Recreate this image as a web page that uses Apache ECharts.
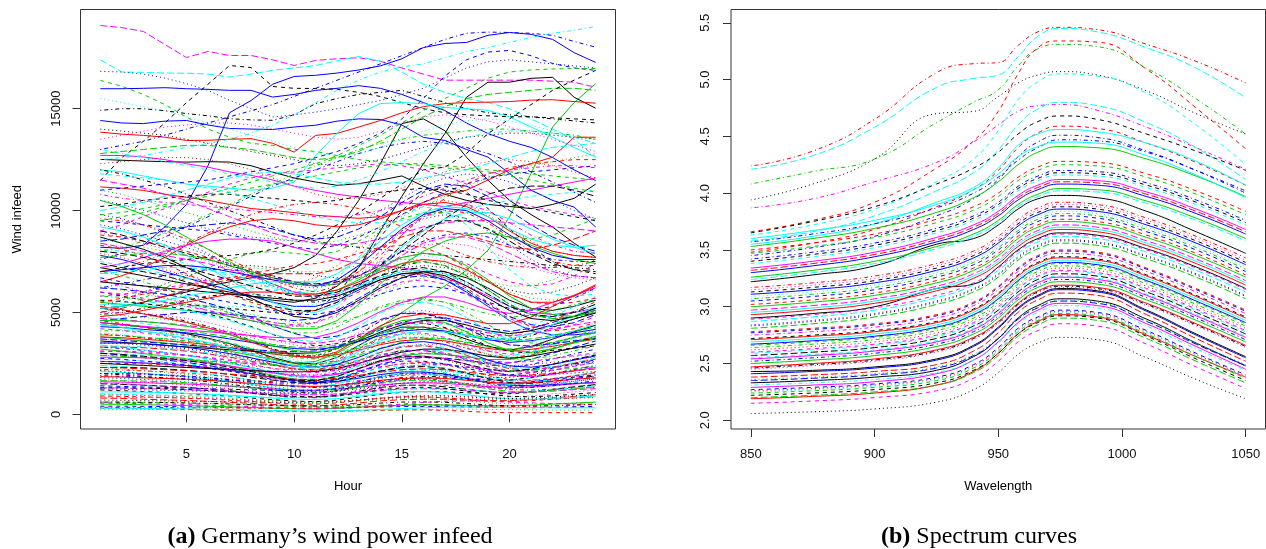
<!DOCTYPE html>
<html><head><meta charset="utf-8">
<script src="https://cdn.jsdelivr.net/npm/echarts@6/dist/echarts.min.js"></script>
<style>html,body{margin:0;padding:0;background:#fff}#c{width:1266px;height:549px}</style>
</head><body><div id="c"></div>
<script>
// ---------- Data: wind power infeed (Hour 1..24) ----------
const hours = [1,2,3,4,5,6,7,8,9,10,11,12,13,14,15,16,17,18,19,20,21,22,23,24];
const windXTicks = [5,10,15,20];
const windYTicks = [0,5000,10000,15000];
const windCurves = [
[19080,18980,18790,18150,17510,17810,17610,17610,17400,17120,17370,17450,17500,17330,17000,16700,16400,16400,16400,16400,16400,16350,16300,16050],
[17400,16800,16780,16750,16740,16700,16550,16700,16880,17000,17120,17350,17560,17330,16800,16200,15800,15500,15300,15000,14500,14000,13500,12620],
[16830,16800,16700,16500,16230,15900,15410,15000,14590,14700,14830,15000,15200,15400,15700,16000,16500,17000,17300,17400,17300,17200,17100,17000],
[15980,15980,16000,16030,15980,15950,15900,15900,15570,15700,15900,16000,16130,16000,15700,15300,14910,14300,13780,13400,13100,12600,12000,11470],
[8200,8150,8300,9200,10300,12200,14800,15400,16200,16580,16640,16750,16900,17100,17450,18000,18200,18250,18600,18740,18650,18400,17750,17270],
[11470,12600,13400,14300,15300,16200,17120,17020,16090,16000,15990,15950,15800,15600,15300,15000,14800,14700,14650,14600,14600,14550,14500,14450],
[14920,15000,15000,14900,14760,14650,14510,14450,14430,14700,15250,15500,15700,15800,15900,15600,15300,15000,14800,14700,14600,14500,14400,14300],
[16390,16100,15700,15200,14590,14000,13600,13300,13200,13000,12900,12700,12500,12400,12300,12300,12200,12100,12000,11900,11800,11700,11600,11500],
[3800,3700,3600,3500,3400,3300,3100,2900,2700,2500,2600,3000,3600,4300,5000,5700,6300,7070,8050,9690,11820,14100,15300,16230],
[7200,7000,6800,6600,6400,6200,6000,5800,5600,5500,5700,6300,7200,9000,10700,12300,13780,15560,16300,16300,16490,16540,15560,15020],
[5200,5300,5500,5800,6000,6300,6500,6700,6900,7200,7800,9000,10500,12300,14270,14500,13920,12620,11490,10500,9800,9190,8400,7720],
[13850,13750,13690,13600,13440,13450,13500,13530,13300,12870,13690,13790,14100,14420,14800,15100,15250,15300,15320,15350,15420,15440,15350,15270],
[14420,14300,14270,14390,14420,14200,14030,14000,13980,14100,14190,14390,14500,14470,14200,13590,13440,13000,12620,11820,11000,10500,10170,9190],
[12000,11900,11700,11500,11300,11200,11100,11000,11100,11400,12700,13800,14760,15250,15300,15250,15060,15000,14920,14600,14100,13600,13100,12620],
[12510,12470,12430,12400,12380,12400,12380,12200,11890,11600,11400,11240,11320,11490,11700,11200,10800,10500,10300,10200,10100,10300,10600,11300],
[12710,12700,12630,12500,12300,12130,11900,11730,11500,11200,10990,10800,10660,10500,10400,10300,10200,10400,10600,10800,11000,11200,11400,11600],
[11160,11100,10990,10800,10650,10500,10300,10100,10010,9900,9770,9700,9620,9700,10000,10400,10800,11000,11500,12000,12300,12620,13600,13600],
[10200,10300,10500,10600,10700,10800,10800,10700,10600,10500,10400,10500,10700,10900,11000,11100,11000,10800,10500,10300,10100,9900,9700,9500],
[9800,9900,10100,10300,10500,10700,10900,11100,11300,11500,11700,11900,12100,12200,12300,12200,12100,12000,11900,11700,11500,11300,11100,10900],
[9500,9400,9300,9200,9100,9000,8800,8600,8400,8200,8100,8300,8700,9200,9800,10400,10900,11300,11600,11800,11900,12000,12100,12200],
[9000,9300,9700,10100,10500,10900,11300,11600,11800,11900,12000,12100,12200,12300,12200,12000,11700,11300,10900,10500,10200,10000,9800,9600],
[8800,8700,8500,8300,8000,7700,7400,7100,6800,6500,6300,6500,7000,7800,8800,9800,10600,11300,11800,12100,12300,12400,12500,12500],
[11800,11700,11600,11500,11300,11100,10900,10600,10300,10000,9700,9500,9400,9400,9500,9700,9900,10100,10300,10500,10700,10800,10900,11000],
[8000,8200,8500,8900,9300,9800,10300,10800,11300,11800,12200,12600,13000,13300,13500,13700,13800,13900,14000,14000,13900,13800,13700,13500],
[12000,11800,11500,11200,10800,10400,10000,9600,9200,8800,8500,8300,8200,8100,8000,7900,7800,7700,7600,7500,7400,7300,7200,7100],
[7600,7900,8300,8700,9200,9700,10200,10700,11200,11600,12000,12400,12800,13100,13300,13400,13300,13100,12800,12400,11900,11400,10900,10400],
[10800,10600,10500,10400,10300,10200,10100,10000,9900,9800,9700,9700,9800,10000,10300,10700,11100,11500,11800,12000,12100,12200,12200,12100],
[7000,7200,7500,7900,8400,8900,9400,9800,10100,10300,10400,10300,10100,9700,9200,8700,8200,7800,7500,7300,7200,7200,7300,7500],
[13000,12800,12600,12400,12200,12000,11800,11600,11400,11200,11100,11200,11500,11900,12400,12900,13300,13600,13800,13900,13900,13800,13600,13300],
[11000,10800,10500,10200,9900,9600,9300,9000,8700,8500,8400,8500,8800,9200,9700,10200,10700,11200,11600,11900,12200,12400,12600,12800],
[10500,10300,10000,9700,9400,9100,8900,8700,8600,8500,8600,8900,9400,10000,10600,11200,11600,11800,11700,11400,11000,10500,10000,9600],
[14000,13900,13800,13700,13500,13300,13100,12900,12700,12500,12300,12200,12300,12500,12800,13100,13400,13600,13700,13800,13800,13700,13600,13500],
[13500,13700,13900,14100,14200,14300,14300,14200,14000,13800,13600,13500,13600,13900,14300,14600,14700,14600,14400,14100,13800,13500,13200,12900],
[15500,15300,15100,14900,14600,14300,14000,13700,13400,13100,12800,12700,12800,13100,13500,13900,14200,14400,14500,14400,14200,13900,13600,13300],
[12300,12400,12500,12600,12600,12500,12300,12000,11600,11200,10800,10600,10600,10800,11100,11500,11900,12200,12400,12500,12400,12200,11900,11600],
[12800,12900,13000,13100,13200,13200,13100,13000,12800,12600,12500,12600,12900,13400,14000,14600,15100,15500,15700,15800,15900,16000,16000,15900],
[9000,8800,8500,8200,7900,7600,7300,7000,6700,6500,6400,6500,6800,7300,8000,8800,9600,10300,10800,11100,11200,11200,11000,10700],
[8500,8600,8800,9000,9200,9300,9400,9300,9100,8800,8600,8700,9100,9700,10400,11000,11300,11200,10700,10000,9300,8700,8300,8000],
[11500,11300,11100,10800,10500,10100,9700,9300,8900,8600,8400,8300,8400,8600,8900,9200,9400,9500,9500,9400,9300,9200,9100,9000],
[10000,10200,10400,10700,11000,11300,11600,11800,11900,11800,11600,11400,11300,11300,11400,11600,11800,12000,12300,12600,12900,13100,13200,13300],
[8700,8400,8100,7700,7200,6700,6200,5700,5200,4800,4700,5000,5600,6200,6700,7000,7000,6700,6200,5600,5200,5100,5300,5600],
[6500,6800,7200,7700,8300,8800,9200,9500,9600,9500,9300,9200,9300,9600,10000,10300,10400,10200,9700,9000,8400,8000,7800,7700],
[5500,5400,5300,5200,5100,5000,4800,4600,4400,4200,4200,4600,5400,6400,7300,8000,8500,8800,8900,8700,8300,7900,7600,7400],
[7800,7600,7300,7000,6700,6400,6100,5800,5500,5300,5300,5600,6100,6600,6900,6900,6600,6000,5300,4600,4100,3900,3900,4000],
[9200,9000,8700,8300,7800,7200,6600,6000,5500,5100,5000,5400,6200,7200,8200,9000,9600,9900,9900,9600,9100,8600,8200,7900],
[7200,7400,7700,8000,8300,8500,8600,8600,8500,8200,7900,7600,7400,7300,7200,7000,6700,6300,5800,5300,5000,4900,5000,5200],
[6000,5800,5600,5500,5400,5300,5200,5100,5000,4900,5100,5900,7200,8700,10000,10900,11200,10900,10100,9100,8200,7500,7100,6900],
[8300,8100,7800,7400,6900,6400,5900,5500,5200,5000,5100,5500,6000,6500,6800,6900,6700,6200,5500,4800,4300,4100,4200,4500],
[5000,5300,5700,6200,6700,7200,7600,7900,8000,7900,7800,8000,8500,9100,9600,9900,9900,9600,9100,8700,8600,8800,9200,9600],
[6700,6500,6300,6100,5900,5700,5500,5300,5100,4900,4900,5100,5500,5900,6200,6300,6200,5900,5500,5200,5100,5300,5700,6200],
[7500,7300,7100,6900,6700,6500,6300,6200,6100,6000,6100,6700,7700,8900,9800,10200,10000,9300,8200,7100,6300,5900,5800,5900],
[5800,5900,6000,6200,6400,6600,6700,6700,6600,6400,6300,6400,6800,7300,7700,7900,7800,7400,6900,6500,6300,6400,6800,7400],
[4900,5000,5200,5400,5600,5800,5900,5900,5800,5600,5500,5700,6200,6800,7300,7500,7300,6800,6100,5400,4900,4700,4800,5100],
[9600,9500,9300,9000,8600,8100,7600,7100,6600,6200,6000,6300,7000,8000,9000,9700,10000,9900,9400,8700,8000,7500,7300,7300],
[7000,6800,6500,6200,5800,5400,5000,4600,4300,4000,4000,4300,4800,5300,5600,5700,5500,5000,4400,3800,3500,3500,3800,4200],
[6200,6400,6600,6800,7000,7100,7100,7000,6800,6500,6300,6400,6800,7400,8000,8500,8800,8900,8700,8300,7900,7600,7500,7500],
[8100,8000,7900,7700,7400,7100,6800,6500,6200,5900,5800,5900,6300,6700,7000,7000,6700,6100,5300,4600,4100,3900,4000,4300],
[6600,6300,6000,5700,5400,5100,4800,4600,4400,4300,4500,5200,6300,7600,8800,9700,10200,10300,10000,9400,8800,8300,8000,7900],
[5300,5600,6000,6400,6800,7100,7300,7300,7200,7000,6800,6700,6800,7000,7200,7300,7200,6900,6500,6100,5900,6000,6300,6700],
[7900,7700,7400,7100,6800,6600,6400,6300,6300,6400,6700,7300,8100,9000,9800,10300,10500,10300,9800,9100,8500,8000,7800,7700],
[6300,6100,5900,5700,5500,5300,5100,4900,4700,4500,4500,4800,5300,5900,6400,6700,6800,6700,6500,6300,6300,6600,7100,7600],
[9800,9600,9300,8900,8400,7900,7300,6800,6300,5900,5700,5800,6200,6700,7000,7100,6900,6400,5700,5100,4800,4800,5000,5200],
[5600,5500,5400,5300,5300,5300,5300,5300,5300,5300,5400,5800,6400,7100,7600,7800,7600,7000,6200,5500,5100,5000,5300,5800],
[8900,8700,8400,8100,7800,7500,7200,6900,6600,6300,6200,6400,6900,7500,8000,8300,8400,8300,8000,7600,7200,6900,6700,6600],
[10500,10200,9800,9300,8700,8100,7500,6900,6400,6000,5900,6100,6600,7200,7700,7900,7800,7300,6600,5800,5200,4900,4800,5000],
[5000,5200,5500,5800,6100,6400,6600,6800,6900,6900,6900,7100,7600,8200,8700,9000,9000,8800,8500,8200,8100,8300,8600,9000],
[4600,4700,4800,4900,5000,5000,4900,4800,4700,4600,4700,5100,5700,6300,6700,6800,6600,6100,5400,4800,4400,4300,4500,4900],
[7400,7200,7000,6800,6500,6200,5900,5600,5300,5100,5100,5500,6300,7300,8300,9100,9500,9500,9100,8500,7900,7400,7100,7000],
[6900,7000,7100,7200,7200,7100,6900,6600,6300,6000,5900,6000,6300,6700,7000,7100,6900,6500,5900,5300,4900,4800,5000,5400],
[8400,8200,8000,7800,7600,7400,7100,6800,6400,6000,5800,5900,6400,7100,7800,8400,8700,8700,8400,7900,7400,7000,6800,6700],
[12500,12600,12700,12900,13100,13300,13500,13800,14200,14700,15300,15900,16400,16800,17050,17200,17500,17800,18000,18250,18500,18700,18850,19030],
[13000,13200,13400,13700,14000,14300,14600,14900,15200,15600,16000,16400,16800,17200,17600,18000,18400,18700,18760,18740,18700,18600,18300,18020],
[11000,11100,11200,11300,11400,11500,11700,11900,12100,12300,12600,12900,13300,13800,14500,15500,16600,17400,17780,17860,17600,17220,17000,16880],
[9500,9700,9900,10200,10500,10800,11100,11400,11700,12000,12300,12700,13200,13700,14300,14900,15500,16000,16500,16800,16900,16950,16970,16970],
[7000,7200,7400,7500,7600,7700,7800,7900,8100,8400,8800,9300,9900,10600,11300,12000,12130,12800,13780,14500,15200,15900,16400,16880],
[4500,4410,4280,4140,3960,3740,3470,3150,2790,2520,2480,2790,3380,3960,4280,4280,4050,3690,3330,3150,3330,3690,4050,4370],
[3800,3760,3690,3610,3530,3420,3270,3120,2960,2850,2810,2930,3150,3420,3610,3690,3610,3420,3230,3120,3190,3340,3530,3690],
[3200,3100,2980,2850,2720,2560,2370,2140,1920,1730,1660,1860,2240,2620,2880,2980,2940,2820,2690,2690,2880,3200,3520,3840],
[2600,2570,2520,2470,2390,2290,2160,2000,1820,1660,1560,1610,1770,1950,2080,2080,1980,1770,1560,1430,1400,1460,1510,1560],
[2100,2060,2000,1930,1850,1740,1620,1470,1300,1180,1160,1300,1580,1850,2000,2000,1890,1720,1550,1470,1550,1720,1890,2040],
[1600,1580,1550,1520,1490,1440,1380,1310,1250,1200,1180,1230,1330,1440,1520,1550,1520,1440,1360,1310,1340,1410,1490,1550],
[1200,1160,1120,1070,1020,960,890,800,720,650,620,700,840,980,1080,1120,1100,1060,1010,1010,1080,1200,1320,1440],
[900,880,860,830,790,750,690,630,560,500,500,560,680,790,860,860,810,740,670,630,670,740,810,870],
[600,590,580,570,550,530,500,460,420,380,360,370,410,450,480,480,460,410,360,330,320,340,350,360],
[400,400,390,380,370,360,340,330,310,300,300,310,330,360,380,390,380,360,340,330,340,350,370,390],
[4800,4660,4460,4270,4080,3840,3550,3220,2880,2590,2500,2780,3360,3940,4320,4460,4420,4220,4030,4030,4320,4800,5280,5760],
[4200,4120,3990,3860,3700,3490,3230,2940,2600,2350,2310,2600,3150,3700,3990,3990,3780,3440,3110,2940,3110,3440,3780,4070],
[3500,3470,3400,3330,3220,3080,2910,2700,2450,2240,2100,2170,2380,2630,2800,2800,2660,2380,2100,1930,1890,1960,2030,2100],
[2900,2870,2810,2760,2700,2610,2490,2380,2260,2180,2150,2230,2410,2610,2760,2810,2760,2610,2470,2380,2440,2550,2700,2810],
[2300,2230,2140,2050,1960,1840,1700,1540,1380,1240,1200,1330,1610,1890,2070,2140,2120,2020,1930,1930,2070,2300,2530,2760],
[1800,1760,1710,1660,1580,1490,1390,1260,1120,1010,990,1120,1350,1580,1710,1710,1620,1480,1330,1260,1330,1480,1620,1750],
[1400,1390,1360,1330,1290,1230,1160,1080,980,900,840,870,950,1050,1120,1120,1060,950,840,770,760,780,810,840],
[1000,970,930,890,850,800,740,670,600,540,520,580,700,820,900,930,920,880,840,840,900,1000,1100,1200],
[5200,5100,4940,4780,4580,4320,4000,3640,3220,2910,2860,3220,3900,4580,4940,4940,4680,4260,3850,3640,3850,4260,4680,5040],
[4600,4460,4280,4090,3910,3680,3400,3080,2760,2480,2390,2670,3220,3770,4140,4280,4230,4050,3860,3860,4140,4600,5060,5520],
[3900,3860,3780,3710,3630,3510,3350,3200,3040,2930,2890,3000,3240,3510,3710,3780,3710,3510,3320,3200,3280,3430,3630,3780],
[3300,3230,3140,3040,2900,2740,2540,2310,2050,1850,1820,2050,2480,2900,3140,3140,2970,2710,2440,2310,2440,2710,2970,3200],
[2700,2670,2620,2570,2480,2380,2240,2080,1890,1730,1620,1670,1840,2030,2160,2160,2050,1840,1620,1490,1460,1510,1570,1620],
[2000,1980,1940,1900,1860,1800,1720,1640,1560,1500,1480,1540,1660,1800,1900,1940,1900,1800,1700,1640,1680,1760,1860,1940],
[1500,1470,1430,1380,1320,1250,1160,1050,930,840,830,930,1130,1320,1430,1430,1350,1230,1110,1050,1110,1230,1350,1460],
[800,780,740,710,680,640,590,540,480,430,420,460,560,660,720,740,740,700,670,670,720,800,880,960],
[4400,4360,4270,4180,4090,3960,3780,3610,3430,3300,3260,3390,3650,3960,4180,4270,4180,3960,3740,3610,3700,3870,4090,4270],
[3000,2910,2790,2670,2550,2400,2220,2010,1800,1620,1560,1740,2100,2460,2700,2790,2760,2640,2520,2520,2700,3000,3300,3600],
[2400,2350,2280,2210,2110,1990,1850,1680,1490,1340,1320,1490,1800,2110,2280,2280,2160,1970,1780,1680,1780,1970,2160,2330],
[1300,1290,1260,1240,1210,1170,1120,1070,1010,980,960,1000,1080,1170,1240,1260,1240,1170,1110,1070,1090,1140,1210,1260],
[3600,3530,3460,3380,3310,3240,3170,3100,3020,2990,3020,3240,3600,4030,4390,4610,4610,4390,4100,3960,4100,4390,4680,4970],
[2500,2500,2480,2430,2350,2250,2130,1980,1830,1700,1650,1750,2000,2300,2500,2550,2450,2200,1900,1700,1650,1750,1900,2050],
[4900,4850,4750,4660,4510,4310,4070,3770,3430,3140,2940,3040,3330,3680,3920,3920,3720,3330,2940,2700,2650,2740,2840,2940],
[1900,1860,1820,1790,1750,1710,1670,1630,1600,1580,1600,1710,1900,2130,2320,2430,2430,2320,2170,2090,2170,2320,2470,2620],
[3400,3300,3160,3030,2890,2720,2520,2280,2040,1840,1770,1970,2380,2790,3060,3160,3130,2990,2860,2860,3060,3400,3740,4080],
[2800,2800,2770,2720,2630,2520,2380,2210,2040,1900,1850,1960,2240,2580,2800,2860,2740,2460,2130,1900,1850,1960,2130,2300],
[5600,5540,5430,5320,5150,4930,4650,4310,3920,3580,3360,3470,3810,4200,4480,4480,4260,3810,3360,3080,3020,3140,3250,3360],
[1700,1650,1580,1510,1450,1360,1260,1140,1020,920,880,990,1190,1390,1530,1580,1560,1500,1430,1430,1530,1700,1870,2040],
[4100,4100,4060,3980,3850,3690,3490,3240,2990,2790,2710,2870,3280,3770,4100,4180,4020,3610,3120,2790,2710,2870,3120,3360],
[3700,3630,3550,3480,3400,3330,3260,3180,3110,3070,3110,3330,3700,4140,4510,4740,4740,4510,4220,4070,4220,4510,4810,5110],
[1100,1100,1090,1070,1030,990,940,870,800,750,730,770,880,1010,1100,1120,1080,970,840,750,730,770,840,900],
[3100,3070,3010,2950,2880,2790,2670,2540,2420,2330,2290,2390,2570,2790,2950,3010,2950,2790,2640,2540,2600,2730,2880,3010],
[700,690,670,660,640,630,620,600,590,580,590,630,700,780,850,900,900,850,800,770,800,850,910,970],
[2200,2180,2130,2090,2020,1940,1830,1690,1540,1410,1320,1360,1500,1650,1760,1760,1670,1500,1320,1210,1190,1230,1280,1320],
[1650,1650,1630,1600,1550,1490,1400,1300,1200,1120,1090,1160,1320,1520,1650,1680,1620,1450,1250,1120,1090,1160,1250,1350],
[4300,4260,4170,4090,4000,3870,3700,3530,3350,3230,3180,3310,3570,3870,4090,4170,4090,3870,3660,3530,3610,3780,4000,4170],
[3000,2970,2910,2850,2760,2640,2490,2310,2100,1920,1800,1860,2040,2250,2400,2400,2280,2040,1800,1650,1620,1680,1740,1800],
[5000,5000,4950,4850,4700,4500,4250,3950,3650,3400,3300,3500,4000,4600,5000,5100,4900,4400,3800,3400,3300,3500,3800,4100],
[2000,1940,1860,1780,1700,1600,1480,1340,1200,1080,1040,1160,1400,1640,1800,1860,1840,1760,1680,1680,1800,2000,2200,2400],
[3300,3300,3270,3200,3100,2970,2810,2610,2410,2240,2180,2310,2640,3040,3300,3370,3230,2900,2510,2240,2180,2310,2510,2710],
[500,490,470,450,430,400,370,340,300,270,260,290,350,410,450,470,460,440,420,420,450,500,550,600],
[1400,1370,1340,1320,1290,1260,1230,1200,1180,1160,1180,1260,1400,1570,1710,1790,1790,1710,1600,1540,1600,1710,1820,1930],
[4000,3920,3800,3680,3520,3320,3080,2800,2480,2240,2200,2480,3000,3520,3800,3800,3600,3280,2960,2800,2960,3280,3600,3880],
[2600,2570,2520,2470,2420,2340,2240,2130,2030,1950,1920,2000,2160,2340,2470,2520,2470,2340,2210,2130,2180,2290,2420,2520],
[5300,5140,4930,4720,4510,4240,3920,3550,3180,2860,2760,3070,3710,4350,4770,4930,4880,4660,4450,4450,4770,5300,5830,6360],
[2300,2300,2280,2230,2160,2070,1960,1820,1680,1560,1520,1610,1840,2120,2300,2350,2250,2020,1750,1560,1520,1610,1750,1890],
[300,300,280,260,240,220,200,180,160,150,140,150,180,200,220,220,200,150,100,80,80,80,80,80],
[220,230,240,230,220,200,180,160,140,130,120,130,150,180,210,230,250,250,240,230,220,210,210,210],
[300,300,290,280,270,250,230,210,190,170,160,170,200,240,280,320,350,360,350,340,330,320,320,320],
[550,540,520,500,480,450,420,380,340,300,270,290,340,420,500,580,640,660,640,600,560,530,510,500],
[2500,2450,2400,2350,2300,2250,2200,2150,2100,2080,2100,2250,2500,2800,3050,3200,3200,3050,2850,2750,2850,3050,3250,3450],
[1850,1830,1790,1760,1720,1670,1590,1520,1440,1390,1370,1420,1540,1670,1760,1790,1760,1670,1570,1520,1550,1630,1720,1790],
[3900,3860,3780,3710,3590,3430,3240,3000,2730,2500,2340,2420,2650,2930,3120,3120,2960,2650,2340,2150,2110,2180,2260,2340],
[1250,1230,1200,1180,1150,1130,1100,1080,1050,1040,1050,1130,1250,1400,1530,1600,1600,1530,1430,1380,1430,1530,1630,1730],
[3350,3350,3320,3250,3150,3020,2850,2650,2450,2280,2210,2350,2680,3080,3350,3420,3280,2950,2550,2280,2210,2350,2550,2750],
[4700,4650,4560,4470,4370,4230,4040,3850,3670,3530,3480,3620,3900,4230,4470,4560,4470,4230,4000,3850,3950,4140,4370,4560],
[2150,2090,2000,1910,1830,1720,1590,1440,1290,1160,1120,1250,1510,1760,1940,2000,1980,1890,1810,1810,1940,2150,2370,2580],
[3950,3870,3750,3630,3480,3280,3040,2770,2450,2210,2170,2450,2960,3480,3750,3750,3560,3240,2920,2770,2920,3240,3560,3830],
[2900,2840,2780,2730,2670,2610,2550,2490,2440,2410,2440,2610,2900,3250,3540,3710,3710,3540,3310,3190,3310,3540,3770,4000],
[3500,3500,3470,3400,3290,3150,2980,2770,2560,2380,2310,2450,2800,3220,3500,3570,3430,3080,2660,2380,2310,2450,2660,2870],
[1000,980,960,940,920,900,880,860,840,830,840,900,1000,1120,1220,1280,1280,1220,1140,1100,1140,1220,1300,1380],
[3700,3590,3440,3290,3150,2960,2740,2480,2220,2000,1920,2150,2590,3030,3330,3440,3400,3260,3110,3110,3330,3700,4070,4440],
[600,600,590,580,560,540,510,470,440,410,400,420,480,550,600,610,590,530,460,410,400,420,460,490],
[2300,2280,2230,2190,2140,2070,1980,1890,1790,1730,1700,1770,1910,2070,2190,2230,2190,2070,1960,1890,1930,2020,2140,2230],
[4600,4600,4550,4460,4320,4140,3910,3630,3360,3130,3040,3220,3680,4230,4600,4690,4510,4050,3500,3130,3040,3220,3500,3770],
[2750,2700,2610,2530,2420,2280,2120,1930,1710,1540,1510,1710,2060,2420,2610,2610,2480,2260,2040,1930,2040,2260,2480,2670],
[4200,4160,4070,3990,3860,3700,3490,3230,2940,2690,2520,2600,2860,3150,3360,3360,3190,2860,2520,2310,2270,2350,2440,2520],
[1550,1500,1440,1380,1320,1240,1150,1040,930,840,810,900,1090,1270,1400,1440,1430,1360,1300,1300,1400,1550,1710,1860],
[3000,2940,2850,2760,2640,2490,2310,2100,1860,1680,1650,1860,2250,2640,2850,2850,2700,2460,2220,2100,2220,2460,2700,2910],
[850,840,820,810,790,770,730,700,660,640,630,650,710,770,810,820,810,770,720,700,710,750,790,820],
[5800,5740,5630,5510,5390,5220,4990,4760,4520,4350,4290,4470,4810,5220,5510,5630,5510,5220,4930,4760,4870,5100,5390,5630],
[6200,6140,6010,5890,5700,5460,5150,4770,4340,3970,3720,3840,4220,4650,4960,4960,4710,4220,3720,3410,3350,3470,3600,3720],
[5400,5400,5350,5240,5080,4860,4590,4270,3940,3670,3560,3780,4320,4970,5400,5510,5290,4750,4100,3670,3560,3780,4100,4430],
[4500,4410,4320,4230,4140,4050,3960,3870,3780,3740,3780,4050,4500,5040,5490,5760,5760,5490,5130,4950,5130,5490,5850,6210],
[1300,1300,1290,1260,1220,1170,1110,1030,950,880,860,910,1040,1200,1300,1330,1270,1140,990,880,860,910,990,1070],
[350,340,340,330,320,320,310,300,290,290,290,320,350,390,430,450,450,430,400,380,400,430,460,480],
[950,940,920,900,870,840,790,730,670,610,570,590,650,710,760,760,720,650,570,520,510,530,550,570],
[2000,2000,1980,1940,1880,1800,1700,1580,1460,1360,1320,1400,1600,1840,2000,2040,1960,1760,1520,1360,1320,1400,1520,1640],
[4400,4270,4090,3920,3740,3520,3260,2950,2640,2380,2290,2550,3080,3610,3960,4090,4050,3870,3700,3700,3960,4400,4840,5280],
[3100,3100,3070,3010,2910,2790,2640,2450,2260,2110,2050,2170,2480,2850,3100,3160,3040,2730,2360,2110,2050,2170,2360,2540],
[6500,6400,6300,6200,6100,6000,5900,5800,5700,5600,5600,5800,6200,6600,6900,7000,6800,6300,5700,5100,4700,4600,4800,5200],
[5500,5700,5900,6100,6300,6500,6700,6900,7100,7300,7400,7600,7900,8200,8300,8200,7800,7200,6500,5900,5500,5400,5500,5700],
[7000,7100,7200,7300,7300,7200,7000,6800,6600,6400,6300,6600,7300,8200,9100,9800,10100,10000,9500,8800,8200,7800,7600,7600],
[8600,8400,8200,8000,7800,7600,7400,7200,7100,7000,7000,7100,7300,7500,7600,7600,7400,7000,6500,6000,5700,5600,5800,6100],
[6000,5900,5700,5500,5300,5100,4900,4700,4500,4400,4500,4900,5500,6100,6500,6600,6400,5900,5300,4700,4300,4200,4400,4800],
[5200,5300,5400,5600,5800,6000,6200,6400,6500,6500,6500,6900,7600,8500,9300,9900,10200,10100,9700,9100,8600,8300,8200,8300],
[8000,7900,7700,7500,7200,6900,6600,6300,6000,5800,5800,6000,6400,6800,7100,7200,7000,6500,5900,5300,4900,4800,5000,5400],
[4800,4900,5100,5300,5500,5700,5900,6000,6000,5900,5900,6100,6500,7000,7400,7600,7500,7100,6500,5900,5500,5500,5800,6300],
[9300,9100,8800,8500,8200,7800,7400,7000,6700,6400,6300,6600,7300,8200,9000,9600,9800,9600,9000,8300,7600,7100,6800,6700],
[7700,7800,7900,7900,7800,7600,7300,7000,6700,6400,6300,6400,6700,7100,7400,7500,7300,6800,6100,5400,4900,4700,4800,5100]
];
const windStyles = ('m5 c5 b3 b1 b1 k2 k4 g2 g1 k1 k1 r1 b1 c1 k1 m1 r1 ' +
  'k2 g2 b2 m2 r2 c2 g4 k4 b4 m4 r4 c4 g3 b3 k3 m3 c3 r3 g5 k5 b5 m5 c5 ' +
  'k1 r1 g1 b1 c1 m1 k2 r2 g2 b2 c2 m2 k4 r4 g4 b4 c4 m4 k3 r3 g3 b3 c3 m3 g1 r5 b5 k5 c5 m5 ' +
  'c4 b4 b2 g2 k2 ' +
  'k1 r1 g1 b1 c1 m1 k2 r2 g2 b2 c2 m2 k3 r3 g3 b3 c3 m3 k4 r4 g4 b4 c4 m4 k5 r5 g5 b5 c5 m5 ' +
  'k1 r2 g3 b4 c5 m1 k2 r3 g4 b5 c1 m2 k3 r4 g5 b1 c2 m3 k4 r5 g1 b2 c3 m4 r1 k5 ' +
  'r2 g3 c1 m2 ' +
  'k1 r1 g2 b3 c4 m5 k3 r4 g5 b1 c2 m3 k4 r5 g1 b2 c3 m4 k5 r3 g4 b5 c5 m1 k2 r4 g3 b4 c1 m2 ' +
  'k1 r2 b1 g3 m2 c1 k5 r1 b3 g5').split(' ');

// ---------- Data: spectrum curves ----------
const wavelengths = [850,875,900,925,940,950,958,966,975,990,1010,1030,1050];
const specXTicks = [850,900,950,1000,1050];
const specYTicks = [2.0,2.5,3.0,3.5,4.0,4.5,5.0,5.5];
const spectra = [
[4.24,4.37,4.65,5.06,5.14,5.15,5.30,5.42,5.46,5.44,5.31,5.16,4.97],
[4.21,4.33,4.58,4.93,5.01,5.04,5.20,5.38,5.45,5.42,5.28,5.10,4.84],
[4.08,4.19,4.30,4.62,4.80,4.91,5.12,5.27,5.31,5.29,5.10,4.83,4.52],
[3.66,3.76,3.92,4.22,4.46,4.72,5.05,5.28,5.34,5.33,5.09,4.75,4.39],
[3.94,4.08,4.30,4.70,4.72,4.85,4.97,5.04,5.07,5.04,4.90,4.70,4.52],
[3.87,3.95,4.10,4.27,4.45,4.60,4.72,4.77,4.78,4.73,4.58,4.40,4.21],
[3.63,3.72,3.86,4.10,4.30,4.55,4.82,4.98,5.05,5.03,4.88,4.60,4.25],
[3.58,3.66,3.80,4.02,4.18,4.38,4.60,4.74,4.80,4.77,4.62,4.40,4.12],
[3.65,3.75,3.88,4.08,4.22,4.36,4.52,4.63,4.68,4.65,4.52,4.37,4.20],
[3.48,3.56,3.68,3.88,4.03,4.20,4.40,4.53,4.59,4.57,4.44,4.27,4.07],
[3.55,3.62,3.73,3.92,4.05,4.22,4.42,4.52,4.56,4.54,4.44,4.28,4.07],
[3.45,3.52,3.62,3.80,3.95,4.12,4.32,4.45,4.51,4.49,4.37,4.20,4.00],
[2.06,2.075,2.10,2.16,2.27,2.42,2.58,2.68,2.73,2.71,2.55,2.36,2.19],
[2.15,2.17,2.20,2.26,2.37,2.52,2.69,2.79,2.85,2.83,2.67,2.47,2.28],
[2.19,2.21,2.24,2.31,2.43,2.59,2.76,2.87,2.93,2.91,2.75,2.56,2.38],
[2.22,2.24,2.27,2.33,2.44,2.59,2.76,2.86,2.92,2.90,2.74,2.54,2.35],
[2.24,2.26,2.29,2.35,2.46,2.61,2.78,2.88,2.94,2.92,2.76,2.56,2.37],
[2.25,2.27,2.30,2.36,2.47,2.62,2.79,2.89,2.95,2.93,2.77,2.57,2.38],
[2.27,2.29,2.32,2.38,2.49,2.64,2.81,2.91,2.97,2.95,2.79,2.59,2.40],
[2.29,2.31,2.34,2.41,2.53,2.69,2.86,2.97,3.03,3.01,2.85,2.65,2.45],
[2.31,2.33,2.36,2.42,2.53,2.68,2.85,2.95,3.01,2.99,2.83,2.63,2.44],
[2.33,2.35,2.38,2.44,2.56,2.72,2.90,3.01,3.07,3.05,2.89,2.68,2.48],
[2.36,2.38,2.41,2.47,2.58,2.73,2.90,3.00,3.06,3.04,2.88,2.68,2.49],
[2.38,2.40,2.43,2.49,2.61,2.77,2.95,3.06,3.12,3.10,2.93,2.72,2.52],
[2.41,2.43,2.46,2.53,2.65,2.81,2.98,3.09,3.15,3.13,2.96,2.75,2.55],
[2.43,2.44,2.47,2.54,2.66,2.82,2.99,3.10,3.16,3.14,2.97,2.76,2.56],
[2.45,2.48,2.52,2.60,2.71,2.85,3.01,3.12,3.17,3.15,3.01,2.83,2.64],
[2.47,2.50,2.54,2.62,2.73,2.87,3.03,3.14,3.19,3.17,3.03,2.85,2.66],
[2.50,2.53,2.57,2.65,2.76,2.90,3.06,3.17,3.22,3.20,3.06,2.88,2.69],
[2.52,2.55,2.59,2.67,2.78,2.92,3.08,3.19,3.24,3.22,3.08,2.90,2.71],
[2.55,2.58,2.62,2.70,2.81,2.95,3.11,3.22,3.27,3.25,3.11,2.93,2.74],
[2.57,2.60,2.64,2.72,2.83,2.97,3.13,3.24,3.29,3.27,3.13,2.95,2.76],
[2.60,2.63,2.67,2.75,2.86,3.00,3.16,3.27,3.32,3.30,3.16,2.98,2.79],
[2.62,2.65,2.69,2.77,2.88,3.02,3.18,3.29,3.34,3.32,3.18,3.00,2.81],
[2.64,2.67,2.71,2.79,2.90,3.04,3.20,3.31,3.36,3.34,3.20,3.02,2.83],
[2.67,2.70,2.74,2.82,2.93,3.07,3.23,3.34,3.39,3.37,3.23,3.05,2.86],
[2.69,2.72,2.76,2.84,2.95,3.09,3.25,3.36,3.41,3.39,3.25,3.07,2.88],
[2.72,2.75,2.79,2.87,2.98,3.12,3.28,3.39,3.44,3.42,3.28,3.10,2.91],
[2.75,2.78,2.82,2.90,3.01,3.15,3.31,3.42,3.47,3.45,3.31,3.13,2.94],
[2.78,2.81,2.85,2.93,3.04,3.18,3.34,3.45,3.50,3.48,3.34,3.16,2.97],
[2.81,2.85,2.91,3.02,3.13,3.26,3.41,3.51,3.56,3.54,3.42,3.26,3.07],
[2.84,2.88,2.94,3.05,3.16,3.29,3.44,3.54,3.59,3.57,3.45,3.29,3.10],
[2.87,2.91,2.97,3.08,3.19,3.32,3.47,3.57,3.62,3.60,3.48,3.32,3.13],
[2.90,2.94,3.00,3.16,3.20,3.35,3.50,3.60,3.65,3.63,3.51,3.35,3.16],
[2.93,2.97,3.03,3.14,3.25,3.38,3.53,3.63,3.68,3.66,3.54,3.38,3.19],
[2.97,3.01,3.07,3.18,3.29,3.42,3.57,3.67,3.72,3.70,3.58,3.42,3.23],
[3.00,3.04,3.10,3.21,3.32,3.45,3.60,3.70,3.75,3.73,3.61,3.45,3.26],
[3.05,3.09,3.15,3.26,3.37,3.50,3.65,3.75,3.80,3.78,3.66,3.50,3.31],
[3.09,3.13,3.19,3.30,3.41,3.54,3.69,3.79,3.84,3.82,3.70,3.54,3.35],
[3.13,3.17,3.23,3.34,3.45,3.58,3.73,3.83,3.88,3.86,3.74,3.58,3.39],
[3.17,3.21,3.27,3.38,3.49,3.62,3.77,3.87,3.92,3.90,3.78,3.62,3.43],
[3.22,3.28,3.36,3.55,3.60,3.72,3.86,3.95,3.98,3.96,3.84,3.66,3.47],
[3.26,3.32,3.40,3.53,3.64,3.76,3.90,3.99,4.04,4.03,3.93,3.78,3.60],
[3.30,3.36,3.44,3.57,3.68,3.80,3.94,4.03,4.08,4.07,3.97,3.82,3.64],
[3.34,3.40,3.48,3.61,3.72,3.84,3.98,4.07,4.12,4.11,4.01,3.86,3.68],
[3.38,3.44,3.52,3.65,3.76,3.88,4.02,4.11,4.16,4.15,4.05,3.90,3.72],
[3.42,3.48,3.56,3.69,3.80,3.92,4.06,4.15,4.20,4.19,4.09,3.94,3.76],
[3.47,3.53,3.61,3.74,3.85,3.97,4.11,4.20,4.25,4.24,4.14,3.99,3.81],
[3.50,3.56,3.64,3.77,3.88,4.00,4.14,4.23,4.28,4.27,4.17,4.02,3.84],
[3.53,3.60,3.69,3.83,3.96,4.10,4.25,4.36,4.41,4.40,4.30,4.15,3.97],
[3.57,3.64,3.73,3.87,4.00,4.14,4.29,4.40,4.47,4.46,4.36,4.20,4.02],
[3.60,3.67,3.76,3.90,4.03,4.17,4.32,4.41,4.45,4.44,4.33,4.16,3.96],
[2.20,2.22,2.25,2.31,2.42,2.57,2.74,2.84,2.90,2.88,2.72,2.52,2.33],
[2.26,2.28,2.31,2.37,2.48,2.63,2.80,2.90,2.96,2.94,2.78,2.58,2.39],
[2.35,2.37,2.40,2.46,2.57,2.72,2.89,2.99,3.05,3.03,2.87,2.67,2.48],
[2.46,2.49,2.53,2.61,2.72,2.86,3.02,3.13,3.18,3.16,3.02,2.84,2.65],
[2.54,2.57,2.61,2.69,2.80,2.94,3.10,3.21,3.26,3.24,3.10,2.92,2.73],
[2.59,2.62,2.66,2.74,2.85,2.99,3.15,3.26,3.31,3.29,3.15,2.97,2.78],
[2.66,2.69,2.73,2.81,2.92,3.06,3.22,3.33,3.38,3.36,3.22,3.04,2.85],
[2.71,2.74,2.78,2.86,2.97,3.11,3.27,3.38,3.43,3.41,3.27,3.09,2.90],
[2.77,2.80,2.84,2.92,3.03,3.17,3.33,3.44,3.49,3.47,3.33,3.15,2.96],
[2.83,2.87,2.93,3.04,3.15,3.28,3.43,3.53,3.58,3.56,3.44,3.28,3.09],
[2.89,2.93,2.99,3.10,3.21,3.34,3.49,3.59,3.64,3.62,3.50,3.34,3.15],
[2.95,2.99,3.05,3.16,3.27,3.40,3.55,3.65,3.70,3.68,3.56,3.40,3.21],
[3.02,3.06,3.12,3.23,3.34,3.47,3.62,3.72,3.77,3.75,3.63,3.47,3.28],
[3.07,3.11,3.17,3.28,3.39,3.52,3.67,3.77,3.82,3.80,3.68,3.52,3.33],
[3.11,3.15,3.21,3.32,3.43,3.56,3.71,3.81,3.86,3.84,3.72,3.56,3.37],
[3.15,3.19,3.25,3.36,3.47,3.60,3.75,3.85,3.90,3.88,3.76,3.60,3.41],
[3.24,3.30,3.38,3.51,3.62,3.74,3.88,3.97,4.02,4.01,3.91,3.76,3.58],
[3.32,3.38,3.46,3.59,3.70,3.82,3.96,4.05,4.10,4.09,3.99,3.84,3.66],
[3.40,3.46,3.54,3.67,3.78,3.90,4.04,4.13,4.18,4.17,4.07,3.92,3.74]
];
const spectraStyles = ('r4 c5 g4 r2 k3 m4 c2 c5 k2 r2 c1 b4 k3 ' +
  'm2 r1 k2 g2 c3 b2 m1 c4 k1 g3 r5 b1 k1 ' +
  'm3 r1 g1 b4 c2 k5 m2 r3 g4 b1 c1 k2 m4 r2 ' +
  'g5 b3 c5 k1 r1 m5 g1 b2 c3 k2 r4 ' +
  'k1 g1 b1 m1 c2 b4 g2 r2 g1 b4 c1 ' +
  'g5 r3 b5 k4 m1 c4 g2 r1 b2 k3 m2 c1 r2 g4 b1 m3 c5 r5 k2').split(' ');

// ---------- Rendering ----------
const COLORS = {k:'#000000', r:'#FF0000', g:'#00CD00', b:'#0000FF', c:'#00FFFF', m:'#FF00FF'};
const DASHES = {'1':'solid', '2':[4,4], '3':[1,3], '4':[1,3,4,3], '5':[7,3]};
const FONT = 'Liberation Sans, Arial, Helvetica, sans-serif';
const SERIF = 'Liberation Serif, Times New Roman, serif';

function mkSeries(curves, styles, xs, idx, smooth) {
  return curves.map((vals, i) => {
    const st = styles[i] || 'k1';
    const pts = [];
    for (let j = 0; j < Math.min(vals.length, xs.length); j++) pts.push([xs[j], vals[j]]);
    return {
      type: 'line', xAxisIndex: idx, yAxisIndex: idx, data: pts,
      showSymbol: false, symbol: 'none', smooth: smooth,
      silent: true, animation: false, clip: true,
      lineStyle: {color: COLORS[st[0]], width: 1, type: DASHES[st[1]]}
    };
  });
}

const plain = v => String(v);
const axisCommon = {
  axisLine: {show: false},
  splitLine: {show: false},
  nameTextStyle: {fontFamily: FONT, fontSize: 13, color: '#000'}
};

const chart = echarts.init(document.getElementById('c'), null, {renderer: 'canvas'});
chart.setOption({
  animation: false,
  backgroundColor: '#fff',
  grid: [
    {left: 80.5, top: 9.5, width: 535, height: 419.5, show: true, borderColor: '#333', borderWidth: 1, containLabel: false},
    {left: 731, top: 9.5, width: 534.5, height: 419.5, show: true, borderColor: '#333', borderWidth: 1, containLabel: false}
  ],
  xAxis: [
    Object.assign({}, axisCommon, {
      type: 'value', gridIndex: 0, min: 0.08, max: 24.92,
      name: 'Hour', nameLocation: 'middle', nameGap: 51,
      axisTick: {show: true, inside: false, length: 8, customValues: windXTicks, lineStyle: {color: '#333'}},
      axisLabel: {show: true, customValues: windXTicks, margin: 19, fontFamily: FONT, fontSize: 13, color: '#111', formatter: plain}
    }),
    Object.assign({}, axisCommon, {
      type: 'value', gridIndex: 1, min: 842, max: 1058,
      name: 'Wavelength', nameLocation: 'middle', nameGap: 51,
      axisTick: {show: true, inside: false, length: 8, customValues: specXTicks, lineStyle: {color: '#333'}},
      axisLabel: {show: true, customValues: specXTicks, margin: 19, fontFamily: FONT, fontSize: 13, color: '#111', formatter: plain}
    })
  ],
  yAxis: [
    Object.assign({}, axisCommon, {
      type: 'value', gridIndex: 0, min: -720, max: 19868,
      name: 'Wind infeed', nameLocation: 'middle', nameGap: 57, nameRotate: 90,
      axisTick: {show: true, inside: false, length: 8, customValues: windYTicks, lineStyle: {color: '#333'}},
      axisLabel: {show: true, customValues: windYTicks, rotate: 90, margin: 18, fontFamily: FONT, fontSize: 13, color: '#111', formatter: plain}
    }),
    Object.assign({}, axisCommon, {
      type: 'value', gridIndex: 1, min: 1.9235, max: 5.617,
      axisTick: {show: true, inside: false, length: 8, customValues: specYTicks, lineStyle: {color: '#333'}},
      axisLabel: {show: true, customValues: specYTicks, rotate: 90, margin: 19, fontFamily: FONT, fontSize: 13, color: '#111',
        formatter: v => Number(v).toFixed(1)}
    })
  ],
  graphic: [
    {type: 'text', x: 330, y: 537, style: {
      text: '{b|(a)} Germany\u2019s wind power infeed', align: 'center', verticalAlign: 'middle',
      fontFamily: SERIF, fontSize: 24, fill: '#000',
      rich: {b: {fontWeight: 'bold', fontFamily: SERIF, fontSize: 24, fill: '#000'}}
    }},
    {type: 'text', x: 979, y: 537, style: {
      text: '{b|(b)} Spectrum curves', align: 'center', verticalAlign: 'middle',
      fontFamily: SERIF, fontSize: 24, fill: '#000',
      rich: {b: {fontWeight: 'bold', fontFamily: SERIF, fontSize: 24, fill: '#000'}}
    }}
  ],
  series: mkSeries(windCurves, windStyles, hours, 0, false)
    .concat(mkSeries(spectra, spectraStyles, wavelengths, 1, 0.5))
});
</script></body></html>
